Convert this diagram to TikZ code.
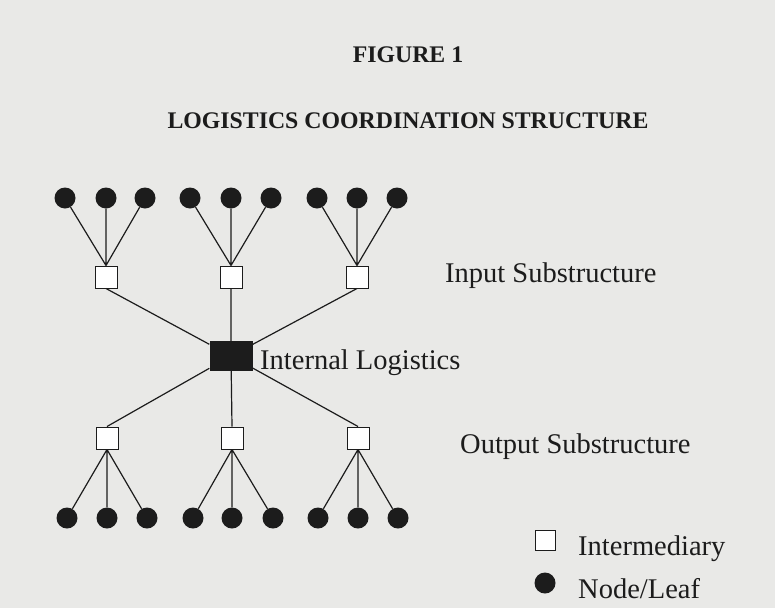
\documentclass[tikz,border=0pt]{standalone}
\usepackage{fontspec}
\setmainfont{Liberation Serif}
\usepackage{tikz}
\usetikzlibrary{positioning}
\definecolor{paper}{RGB}{233,233,231}
\definecolor{ink}{RGB}{28,28,28}
\tikzset{
  leaf/.style={circle, fill=ink, inner sep=0pt, minimum size=21pt},
  inter/.style={rectangle, draw=ink, fill=white, line width=1pt, inner sep=0pt, minimum size=22pt},
  hub/.style={rectangle, fill=ink, inner sep=0pt, minimum width=43pt, minimum height=30pt},
  lbl/.style={font=\fontsize{28.5}{32}\selectfont, text=ink, inner sep=0pt, anchor=base west},
  ttl/.style={font=\fontsize{23.8}{27}\selectfont\bfseries, text=ink, inner sep=0pt, anchor=base},
  link/.style={draw=ink, line width=1.2pt}
}

\begin{document}
\begin{tikzpicture}[on grid]
  \fill[paper] (0,0) rectangle (775pt,-608pt);
  \useasboundingbox (0,0) rectangle (775pt,-608pt);

  \node[ttl] (fig) at (408pt,-62pt) {FIGURE 1};
  \node[ttl] (title) at (408pt,-128pt) {LOGISTICS COORDINATION STRUCTURE};

  \node[hub] (hub) at (231pt,-356pt) {};
  \node[lbl] (hublab) at (260pt,-369pt) {Internal Logistics};

  \node[inter, above left=79pt and 125pt of hub] (in1) {};
  \node[inter, above=79pt of hub] (in2) {};
  \node[inter, above right=79pt and 126pt of hub] (in3) {};
  \node[inter, below left=82pt and 124pt of hub] (out1) {};
  \node[inter, below right=82pt and 1pt of hub] (out2) {};
  \node[inter, below right=82pt and 127pt of hub] (out3) {};

  \node[leaf, above left=79pt and 41pt of in1] (a1) {};
  \node[leaf, above=79pt of in1] (a2) {};
  \node[leaf, above right=79pt and 39pt of in1] (a3) {};
  \node[leaf, above left=79pt and 41pt of in2] (b1) {};
  \node[leaf, above=79pt of in2] (b2) {};
  \node[leaf, above right=79pt and 40pt of in2] (b3) {};
  \node[leaf, above left=79pt and 40pt of in3] (c1) {};
  \node[leaf, above=79pt of in3] (c2) {};
  \node[leaf, above right=79pt and 40pt of in3] (c3) {};

  \node[leaf, below left=80pt and 40pt of out1] (d1) {};
  \node[leaf, below=80pt of out1] (d2) {};
  \node[leaf, below right=80pt and 40pt of out1] (d3) {};
  \node[leaf, below left=80pt and 39pt of out2] (e1) {};
  \node[leaf, below=80pt of out2] (e2) {};
  \node[leaf, below right=80pt and 41pt of out2] (e3) {};
  \node[leaf, below left=80pt and 40pt of out3] (f1) {};
  \node[leaf, below=80pt of out3] (f2) {};
  \node[leaf, below right=80pt and 40pt of out3] (f3) {};

  \node[lbl] (inlab) at (445pt,-282pt) {Input Substructure};
  \node[lbl] (outlab) at (460pt,-453pt) {Output Substructure};

  \node[inter, minimum size=20pt] (keyinter) at (545pt,-540pt) {};
  \node[leaf] (keyleaf) at (545pt,-583pt) {};
  \node[lbl] (keyinterlab) at (578pt,-555pt) {Intermediary};
  \node[lbl] (keyleaflab) at (578pt,-598pt) {Node/Leaf};

  \draw[link] (a1) -- (in1.north) (a2) -- (in1.north) (a3) -- (in1.north)
              (b1) -- (in2.north) (b2) -- (in2.north) (b3) -- (in2.north)
              (c1) -- (in3.north) (c2) -- (in3.north) (c3) -- (in3.north);
  \draw[link] (in1.south) -- (hub) (in2.south) -- (hub) (in3.south) -- (hub);
  \draw[link] (hub) -- (out1.north) (hub) -- (out2.north) (hub) -- (out3.north);
  \draw[link] (out1.south) -- (d1) (out1.south) -- (d2) (out1.south) -- (d3)
              (out2.south) -- (e1) (out2.south) -- (e2) (out2.south) -- (e3)
              (out3.south) -- (f1) (out3.south) -- (f2) (out3.south) -- (f3);
\end{tikzpicture}
\end{document}
